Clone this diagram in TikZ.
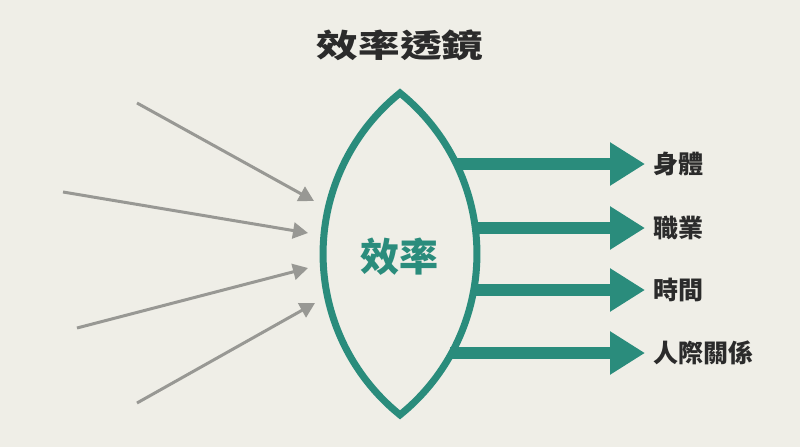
\documentclass[tikz,border=0pt]{standalone}
\usepackage{fontspec}
\usepackage{xcolor}
\usepackage{tikz}
\usetikzlibrary{arrows.meta,positioning}
\newfontfamily\cjk{Noto Sans CJK TC}
\definecolor{LensTeal}{RGB}{42,140,124}
\definecolor{RayGray}{RGB}{152,152,148}
\definecolor{InkDark}{RGB}{43,43,43}
\definecolor{PaperBg}{RGB}{239,238,231}

\begin{document}
\begin{tikzpicture}[x=1pt,y=1pt,node distance=8pt,every node/.style={font=\cjk\bfseries}]
\tikzset{ray/.style={draw=RayGray,line width=3pt,-{Triangle[length=15pt,width=16pt]}},outray/.style={draw=LensTeal,line width=12pt,-{Triangle[length=35pt,width=41pt]}},lbl/.style={text=InkDark,font=\cjk\bfseries\fontsize{25}{25}\selectfont,inner sep=0pt,anchor=west}}
\fill[PaperBg] (0,0) rectangle (800,-447);
\useasboundingbox (0,0) rectangle (800,-447);
\node[text=InkDark,font=\cjk\bfseries\fontsize{32}{32}\selectfont,transform shape,xscale=1.3] (title) at (400,-45) {效率透鏡};
% lens
\coordinate (top) at (400,-93);
\coordinate (bot) at (400,-415);
\draw[LensTeal,line width=7pt,line join=miter] (top) arc[start angle=51.1,end angle=-51.1,radius=206.8] arc[start angle=231.1,end angle=128.9,radius=206.8] -- cycle;
\node[text=LensTeal,font=\cjk\bfseries\fontsize{39}{39}\selectfont] (core) at (399,-257) {效率};
% incoming rays
\coordinate (s1) at (137,-103); \coordinate (t1) at (314,-201);
\coordinate (s2) at (63,-192);  \coordinate (t2) at (308,-233);
\coordinate (s3) at (77,-328);  \coordinate (t3) at (308,-268);
\coordinate (s4) at (137,-403); \coordinate (t4) at (315,-303);
\draw[ray] (s1)--(t1);
\draw[ray] (s2)--(t2);
\draw[ray] (s3)--(t3);
\draw[ray] (s4)--(t4);
% outgoing arrows
\coordinate (e1) at (455,-164); \coordinate (h1) at (645,-164);
\coordinate (e2) at (473,-228); \coordinate (h2) at (645,-228);
\coordinate (e3) at (472,-290); \coordinate (h3) at (645,-290);
\coordinate (e4) at (450,-353); \coordinate (h4) at (645,-353);
\draw[outray] (e1)--(h1);
\draw[outray] (e2)--(h2);
\draw[outray] (e3)--(h3);
\draw[outray] (e4)--(h4);
\node[lbl,right=of h1] (body) {身體};
\node[lbl,right=of h2] (career) {職業};
\node[lbl,right=of h3] (time) {時間};
\node[lbl,right=of h4] (people) {人際關係};
\end{tikzpicture}
\end{document}
